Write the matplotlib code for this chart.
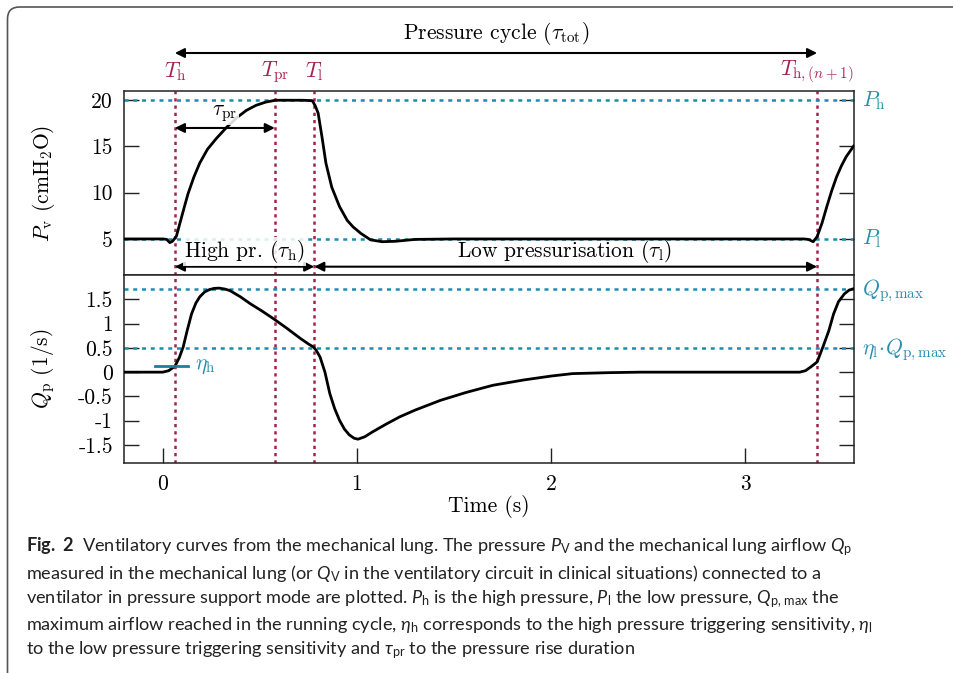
import matplotlib
matplotlib.use("Agg")
import matplotlib.pyplot as plt
from matplotlib.patches import FancyBboxPatch

plt.rcParams['font.family'] = 'serif'
plt.rcParams['font.serif'] = ['cmr10', 'DejaVu Serif']
plt.rcParams['mathtext.fontset'] = 'cm'
plt.rcParams['axes.unicode_minus'] = False
plt.rcParams['mathtext.rm'] = 'Lato'
plt.rcParams['mathtext.it'] = 'Lato:italic'
plt.rcParams['mathtext.bf'] = 'Lato:bold'

# ---------------- data ----------------
t_p = [-0.2, 0.0, 0.02, 0.036, 0.05, 0.07, 0.088, 0.11, 0.13, 0.16, 0.19, 0.23, 0.277,
       0.33, 0.38, 0.43, 0.48, 0.53, 0.58, 0.65, 0.72, 0.77, 0.785, 0.80, 0.82, 0.84,
       0.87, 0.91, 0.95, 0.98, 1.02, 1.07, 1.13, 1.2, 1.3, 1.5, 2.0, 2.5, 3.0, 3.3,
       3.325, 3.35, 3.37, 3.395, 3.42, 3.445, 3.47, 3.495, 3.52, 3.54, 3.56]
p_v = [5, 5, 4.95, 4.6, 4.75, 5.3, 6.7, 8.4, 9.9, 11.7, 13.2, 14.7, 15.9,
       17.1, 18.1, 18.9, 19.45, 19.8, 20, 20, 20, 19.95, 19.4, 18.6, 16.0, 13.2,
       10.6, 8.5, 7.0, 6.3, 5.6, 4.9, 4.7, 4.75, 4.95, 5, 5, 5, 5, 5,
       4.95, 4.7, 5.25, 6.7, 8.5, 10.2, 11.7, 12.9, 13.9, 14.5, 15.1]

t_q = [-0.2, -0.05, 0.0, 0.03, 0.062, 0.085, 0.105, 0.125, 0.148, 0.17, 0.19, 0.215,
       0.24, 0.265, 0.29, 0.32, 0.345, 0.40, 0.45, 0.51, 0.57, 0.64, 0.71, 0.75, 0.775,
       0.79, 0.81, 0.835, 0.86, 0.885, 0.91, 0.935, 0.96, 0.985, 1.005, 1.04, 1.08,
       1.15, 1.22, 1.3, 1.43, 1.56, 1.7, 1.86, 2.0, 2.11, 2.3, 2.46, 2.8, 3.1, 3.28,
       3.31, 3.335, 3.37, 3.40, 3.43, 3.455, 3.48, 3.51, 3.535, 3.56]
q_p = [0, 0, 0, 0.03, 0.12, 0.3, 0.52, 0.85, 1.2, 1.42, 1.55, 1.65,
       1.70, 1.725, 1.73, 1.71, 1.68, 1.55, 1.41, 1.26, 1.10, 0.90, 0.69, 0.58, 0.52,
       0.45, 0.31, 0.0, -0.44, -0.75, -0.99, -1.17, -1.29, -1.36, -1.38, -1.33, -1.23,
       -1.07, -0.92, -0.78, -0.58, -0.42, -0.27, -0.16, -0.08, -0.03, -0.01, 0.0, 0.0, 0.0, 0.0,
       0.03, 0.1, 0.21, 0.52, 0.85, 1.2, 1.45, 1.61, 1.69, 1.72]

t_events = [0.062, 0.577, 0.78, 3.37]
event_labels = [r"$T_\mathrm{h}$", r"$T_\mathrm{pr}$", r"$T_\mathrm{l}$", r"$T_{\mathrm{h},(n+1)}$"]
p_high, p_low = 20, 5
q_max, q_eta = 1.72, 0.5
eta_h = 0.12

p_ticks = [5, 10, 15, 20]
q_ticks = [-1.5, -1, -0.5, 0, 0.5, 1, 1.5]
q_ticklabels = ["-1.5", "-1", "-0.5", "0", "0.5", "1", "1.5"]
x_ticks = [0, 1, 2, 3]

# ---------------- style ----------------
crimson = '#a3234f'
teal = '#1a8db0'
teal_txt = '#2a8fae'
fs = 15.5

fig = plt.figure(figsize=(9.54, 6.73), dpi=100)
W, H = 954, 673

def pos(l, t, r, b):
    return [l / W, 1 - b / H, (r - l) / W, (b - t) / H]

ax1 = fig.add_axes(pos(124, 91, 854, 275))
ax2 = fig.add_axes(pos(124, 275, 854, 463), sharex=ax1)

for ax in (ax1, ax2):
    for s in ax.spines.values():
        s.set_linewidth(1.1)
        s.set_color('#222222')
    ax.tick_params(direction='in', length=11, width=1.0, colors='#222222',
                   labelsize=fs, left=True, right=True, top=False, bottom=True,
                   labelcolor='black', pad=8)
    for te in t_events:
        ax.axvline(te, color=crimson, lw=1.8, ls=(0, (1.3, 1.6)), zorder=2)

ax1.set_xlim(-0.2, 3.56)
ax1.set_ylim(1.1, 21.0)
ax2.set_ylim(-1.87, 2.0)

ax1.tick_params(bottom=False, labelbottom=False)
ax1.set_yticks(p_ticks)
ax1.set_yticklabels([str(v) for v in p_ticks])
ax2.set_yticks(q_ticks)
ax2.set_yticklabels(q_ticklabels)
ax2.set_xticks(x_ticks)
ax2.set_xticklabels([str(v) for v in x_ticks])

# reference lines
for y in (p_high, p_low):
    ax1.axhline(y, color=teal, lw=1.8, ls=(0, (1.6, 1.9)), zorder=2)
for y in (q_max, q_eta):
    ax2.axhline(y, color=teal, lw=1.8, ls=(0, (1.6, 1.9)), zorder=2)

ax1.plot(t_p, p_v, color='black', lw=2.0, zorder=4, solid_capstyle='round')
ax2.plot(t_q, q_p, color='black', lw=2.0, zorder=4, solid_capstyle='round')

# labels
ax1.set_ylabel(r"$P_\mathrm{v}$ (cmH$_2$O)", fontsize=fs)
ax2.set_ylabel(r"$Q_\mathrm{p}$ (1/s)", fontsize=fs)
ax1.yaxis.set_label_coords(-0.092, 0.5)
ax2.yaxis.set_label_coords(-0.092, 0.5)
ax2.set_xlabel("Time (s)", fontsize=fs, labelpad=1)

xf = ax1.get_xaxis_transform()
# event labels
for te, lab in zip(t_events, event_labels):
    ax1.text(te, 1.103, lab, transform=xf, color=crimson, fontsize=fs,
             ha='center', va='center')

arrow_kw = dict(arrowstyle='<|-|>', color='black', lw=1.5,
                mutation_scale=14, shrinkA=0, shrinkB=0)
# pressure cycle
ax1.annotate('', xy=(t_events[0], 1.2065), xytext=(t_events[3], 1.2065),
             xycoords=xf, textcoords=xf, arrowprops=arrow_kw, annotation_clip=False)
ax1.text((t_events[0] + t_events[3]) / 2, 1.315, r"Pressure cycle ($\tau_\mathrm{tot}$)",
         transform=xf, fontsize=fs, ha='center', va='center')

# tau_pr
ax1.annotate('', xy=(t_events[0], 17.0), xytext=(t_events[1], 17.0),
             arrowprops=arrow_kw, zorder=5)
ax1.text(0.32, 18.6, r"$\tau_\mathrm{pr}$", fontsize=fs, ha='center', va='center', zorder=6,
         bbox=dict(boxstyle='square,pad=0.05', fc='white', ec='none', alpha=0.85))

# high / low pressurisation
ax1.annotate('', xy=(t_events[0], 2.0), xytext=(t_events[2], 2.0),
             arrowprops=arrow_kw, zorder=5)
ax1.annotate('', xy=(t_events[2], 2.0), xytext=(t_events[3], 2.0),
             arrowprops=arrow_kw, zorder=5)
ax1.text(0.42, 3.6, r"High pr. ($\tau_\mathrm{h}$)", fontsize=fs, ha='center', va='center',
         zorder=6, bbox=dict(boxstyle='square,pad=0.05', fc='white', ec='none', alpha=0.85))
ax1.text(2.07, 3.6, r"Low pressurisation ($\tau_\mathrm{l}$)", fontsize=fs, ha='center',
         va='center', zorder=6)

# right labels
yf1 = ax1.get_yaxis_transform()
yf2 = ax2.get_yaxis_transform()
ax1.text(1.011, p_high, r"$P_\mathrm{h}$", transform=yf1, color=teal_txt, fontsize=fs,
         va='center', ha='left')
ax1.text(1.011, p_low, r"$P_\mathrm{l}$", transform=yf1, color=teal_txt, fontsize=fs,
         va='center', ha='left')
ax2.text(1.011, q_max - 0.05, r"$Q_\mathrm{p,max}$", transform=yf2, color=teal_txt,
         fontsize=fs, va='center', ha='left')
ax2.text(1.011, q_eta - 0.05, r"$\eta_\mathrm{l}\!\cdot\! Q_\mathrm{p,max}$", transform=yf2,
         color=teal_txt, fontsize=fs, va='center', ha='left')

# eta_h marker
ax2.plot([-0.04, 0.13], [eta_h, eta_h], color='#1a7f9f', lw=2.0, zorder=5)
ax2.text(0.165, eta_h, r"$\eta_\mathrm{h}$", color=teal_txt, fontsize=fs, va='center',
         ha='left')

# caption
cap_lines = [
    r"$\mathbf{Fig.\ 2}$  Ventilatory curves from the mechanical lung. The pressure $P_\mathrm{V}$ and the mechanical lung airflow $Q_\mathrm{p}$",
    r"measured in the mechanical lung (or $Q_\mathrm{V}$ in the ventilatory circuit in clinical situations) connected to a",
    r"ventilator in pressure support mode are plotted. $P_\mathrm{h}$ is the high pressure, $P_\mathrm{l}$ the low pressure, $Q_\mathrm{p,\,max}$ the",
    r"maximum airflow reached in the running cycle, $\eta_\mathrm{h}$ corresponds to the high pressure triggering sensitivity, $\eta_\mathrm{l}$",
    r"to the low pressure triggering sensitivity and $\tau_\mathrm{pr}$ to the pressure rise duration",
]
cap_y = [547, 573, 599, 625, 650]
for line, yy in zip(cap_lines, cap_y):
    fig.text(26 / W, 1 - yy / H, line, fontsize=13.1, ha='left', va='center',
             family=['Lato', 'DejaVu Sans'], math_fontfamily='custom',
             color='#222222')

# frame
frame = FancyBboxPatch((0.075, -0.5), 10.0, 6.66 + 0.5, boxstyle='round,pad=0,rounding_size=0.12',
                       transform=fig.dpi_scale_trans, fill=False, ec='#555555', lw=1.2)
fig.patches.append(frame)

fig.savefig('out.png', dpi=100)
